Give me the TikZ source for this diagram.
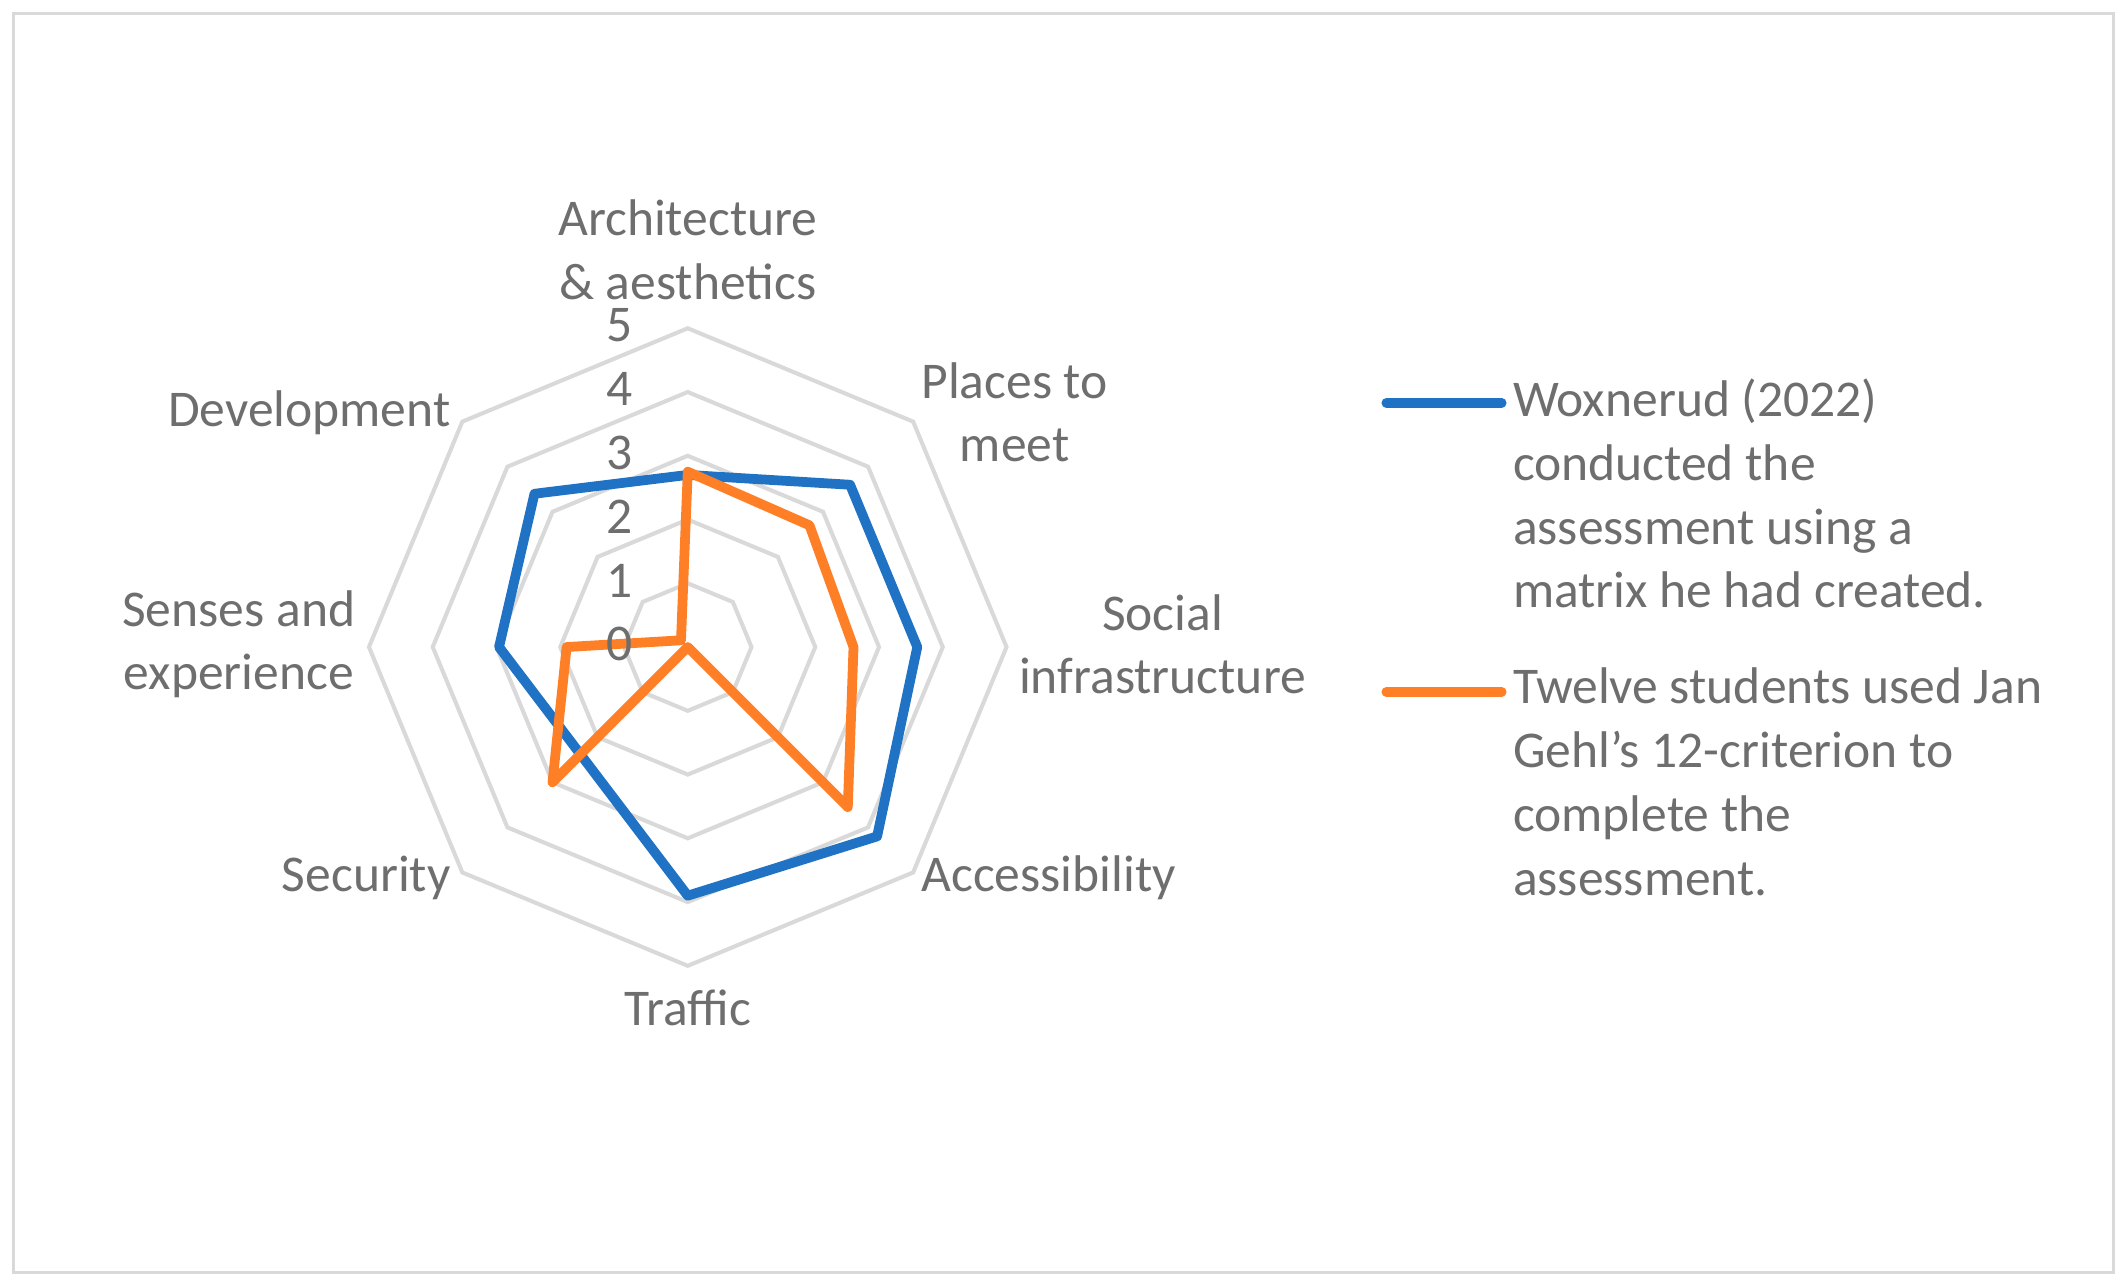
\documentclass[tikz,border=0pt]{standalone}
\usepackage{fontspec}
\setmainfont{Carlito}
\begin{document}
\definecolor{txt}{RGB}{110,110,110}
\definecolor{grd}{RGB}{217,217,217}
\definecolor{bl}{RGB}{31,114,196}
\definecolor{orng}{RGB}{255,127,39}
\begin{tikzpicture}[x=0.5pt,y=0.5pt,
  lab/.style={text=txt,font=\fontsize{19}{23.5}\selectfont,align=center,inner sep=0pt},
  grid/.style={draw=grd,line width=1.5pt},
  ser/.style={line width=3.6pt,line join=round},
  leg/.style={text=txt,font=\fontsize{19}{23.5}\selectfont,align=left,anchor=north west,inner sep=0pt}]
\useasboundingbox (0,0) rectangle (1568,948);
\draw[grd,line width=1pt] (10,10) rectangle (1558,938);
\begin{scope}[shift={(507,471)}]
\foreach \r in {1,...,5}
  \draw[grid] (90:\r*47) \foreach \a in {45,0,-45,-90,-135,180,135} { -- (\a:\r*47) } -- cycle;
\draw[ser,bl] (90:2.7*47) -- (45:3.6*47) -- (0:3.6*47) -- (-45:4.2*47) -- (-90:3.9*47) -- (-135:2.38*47) -- (180:2.96*47) -- (135:3.4*47) -- cycle;
\draw[ser,orng] (90:2.75*47) -- (45:2.7*47) -- (0:2.6*47) -- (-45:3.55*47) -- (-90:0) -- (-135:3*47) -- (180:1.9*47) -- (135:0.15*47) -- cycle;
\foreach \v in {0,...,5} \node[lab] (t\v) at (-50,\v*47+2) {\v};
\end{scope}
\node[lab] (arch) at (507,764) {Architecture\\\& aesthetics};
\node[lab] (pl) at (748,644) {Places to\\meet};
\node[lab] (so) at (857,473) {Social\\infrastructure};
\node[lab] (ac) at (773,301) {Accessibility};
\node[lab] (tr) at (507,205) {Traffic};
\node[lab] (se) at (270,301) {Security};
\node[lab] (sn) at (176,473) {Senses and\\experience};
\node[lab] (de) at (228,644) {Development};
\coordinate (b1) at (1022,651); \coordinate (b2) at (1107,651);
\draw[ser,bl,line cap=round] (b1) -- (b2);
\node[leg] (lb) at (1115,669) {Woxnerud (2022)\\conducted the\\assessment using a\\matrix he had created.};
\coordinate (o1) at (1022,438); \coordinate (o2) at (1107,438);
\draw[ser,orng,line cap=round] (o1) -- (o2);
\node[leg] (lo) at (1115,456) {Twelve students used Jan\\Gehl's 12-criterion to\\complete the\\assessment.};
\end{tikzpicture}
\end{document}
